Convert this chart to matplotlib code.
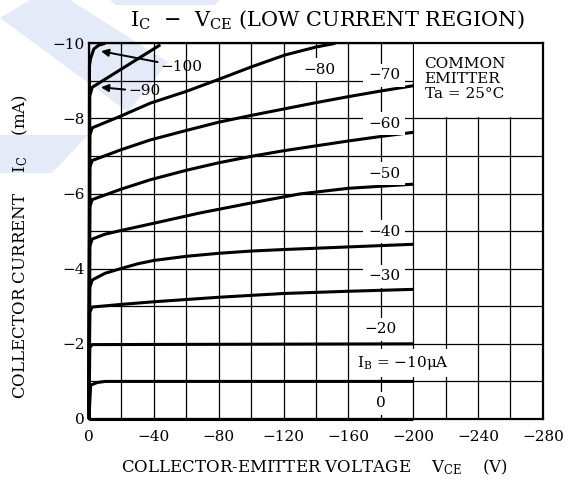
import numpy as np
import matplotlib
matplotlib.use('Agg')
from matplotlib import pyplot as plt
from matplotlib.patches import Polygon, Rectangle

plt.rcParams['font.family'] = ['DejaVu Serif']
plt.rcParams['mathtext.fontset'] = 'custom'
plt.rcParams['mathtext.rm'] = 'DejaVu Serif'

# Ic - Vce curves, one pair of lists per base current (V, mA)
v_ib100 = [0, -0.3, -1, -3, -6, -10]
i_ib100 = [0, -9.4, -9.6, -9.85, -9.95, -10.0]
v_ib90 = [0, -0.5, -2, -44]
i_ib90 = [0, -8.6, -8.83, -9.96]
v_ib80 = [0, -0.5, -2, -20, -38, -60, -80, -100, -121, -140, -152]
i_ib80 = [0, -7.55, -7.75, -8.07, -8.41, -8.72, -9.04, -9.37, -9.69, -9.9, -10.0]
v_ib70 = [0, -0.5, -2, -20, -38, -60, -80, -100, -120, -140, -160, -180, -200]
i_ib70 = [0, -6.7, -6.88, -7.17, -7.43, -7.68, -7.9, -8.08, -8.25, -8.42, -8.58, -8.73, -8.87]
v_ib60 = [0, -0.5, -2, -20, -38, -60, -80, -100, -120, -140, -160, -180, -200]
i_ib60 = [0, -5.65, -5.84, -6.12, -6.37, -6.62, -6.82, -6.99, -7.14, -7.27, -7.4, -7.52, -7.63]
v_ib50 = [0, -0.5, -2, -10, -21, -40, -68, -100, -130, -160, -200]
i_ib50 = [0, -4.6, -4.79, -4.92, -5.03, -5.21, -5.48, -5.75, -5.99, -6.14, -6.25]
v_ib40 = [0, -0.5, -2, -10, -21, -30, -40, -60, -80, -100, -120, -160, -200]
i_ib40 = [0, -3.5, -3.7, -3.88, -4.02, -4.13, -4.22, -4.33, -4.41, -4.47, -4.51, -4.58, -4.65]
v_ib30 = [0, -0.5, -2, -20, -40, -80, -120, -160, -200]
i_ib30 = [0, -2.85, -2.98, -3.05, -3.12, -3.24, -3.34, -3.4, -3.45]
v_ib20 = [0, -0.5, -2, -200]
i_ib20 = [0, -1.9, -1.98, -2.0]
v_ib10 = [0, -1, -5, -10, -200]
i_ib10 = [0, -0.9, -0.97, -1.0, -1.0]
v_ib0 = [0, -200]
i_ib0 = [0, 0]

curves = [(v_ib100, i_ib100), (v_ib90, i_ib90), (v_ib80, i_ib80), (v_ib70, i_ib70),
          (v_ib60, i_ib60), (v_ib50, i_ib50), (v_ib40, i_ib40), (v_ib30, i_ib30),
          (v_ib20, i_ib20), (v_ib10, i_ib10), (v_ib0, i_ib0)]

# curve labels (text, V, I)
curve_labels = [('\u221280', -142, -9.3), ('\u221270', -182, -9.15), ('\u221260', -182, -7.86),
                ('\u221250', -182, -6.53), ('\u221240', -182, -4.98), ('\u221230', -182, -3.8),
                ('\u221220', -180, -2.39), ('0', -180, -0.42)]

x_ticks = np.arange(0, -281, -20)
y_ticks = np.arange(0, -11, -1)
x_ticklabels = ['0', '', '\u221240', '', '\u221280', '', '\u2212120', '', '\u2212160', '',
                '\u2212200', '', '\u2212240', '', '\u2212280']
y_ticklabels = ['0', '', '\u22122', '', '\u22124', '', '\u22126', '', '\u22128', '', '\u221210']

fig = plt.figure(figsize=(5.76, 4.86), dpi=100)
ax = fig.add_axes([0.1545, 0.1379, 0.788, 0.773])
ax.set_facecolor('none')

# faint watermark bands (pixel coords, y from top)
wm = [[(0, 18), (30, 0), (70, 0), (168, 62), (128, 112)],
      [(0, 135), (88, 135), (52, 173), (0, 173)],
      [(110, 0), (220, 0), (214, 5), (116, 5)]]
for pts in wm:
    p = [(x / 576, 1 - y / 486) for x, y in pts]
    fig.add_artist(Polygon(p, closed=True, transform=fig.transFigure,
                           fc='#e4eaf7', ec='none', zorder=-1))

ax.set_xlim(0, -280)
ax.set_ylim(0, -10)
ax.set_xticks(x_ticks)
ax.set_xticklabels(x_ticklabels, fontsize=11)
ax.set_yticks(y_ticks)
ax.set_yticklabels(y_ticklabels, fontsize=11)
ax.tick_params(length=0, pad=8)
ax.tick_params(axis='y', pad=3)
ax.set_axisbelow(True)
ax.grid(True, color='black', linewidth=0.9)
for s in ax.spines.values():
    s.set_linewidth(1.6)

# blank area for the "COMMON EMITTER" note
ax.add_patch(Rectangle((-200.6, -8.03), -79.4, -1.97, fc='white', ec='none', zorder=1))
ax.text(-207, -9.05, 'COMMON\nEMITTER\nTa = 25\u00b0C', fontsize=11, ha='left', va='center',
        linespacing=1.05, zorder=3)

for v, i in curves:
    ax.plot(v, i, color='black', linewidth=2.2, solid_capstyle='butt', zorder=2, clip_on=False)

box = dict(boxstyle='square,pad=0.3', fc='white', ec='none')
for txt, v, i in curve_labels:
    ax.text(v, i, txt, fontsize=11, ha='center', va='center', bbox=box, zorder=3)
ax.text(-194, -1.49, '$\\mathregular{I_B}$ = \u221210\u03bcA',
        fontsize=11, ha='center', va='center', bbox=box, zorder=3)

arrow = dict(arrowstyle='-|>', color='black', lw=1.4, mutation_scale=11, shrinkA=0, shrinkB=0)
ax.annotate('\u2212100', xy=(-7.4, -9.79), xytext=(-44, -9.38), fontsize=11, ha='left', va='center',
            arrowprops=arrow, zorder=3)
ax.annotate('\u221290', xy=(-7.4, -8.83), xytext=(-24, -8.72), fontsize=11, ha='left', va='center',
            arrowprops=arrow, zorder=3)

fig.text(327 / 576, 1 - 20 / 486, '$\\mathregular{I_C}$  \u2212  $\\mathregular{V_{CE}}$ (LOW CURRENT REGION)',
         fontsize=15, ha='center', va='center')
fig.text(315 / 576, 1 - 467 / 486, 'COLLECTOR-EMITTER VOLTAGE    $\\mathregular{V_{CE}}$    (V)',
         fontsize=12, ha='center', va='center')
fig.text(20 / 576, 1 - 246 / 486, 'COLLECTOR CURRENT    $\\mathregular{I_C}$    (mA)',
         fontsize=12, ha='center', va='center', rotation=90)

fig.savefig('out.png', dpi=100)
